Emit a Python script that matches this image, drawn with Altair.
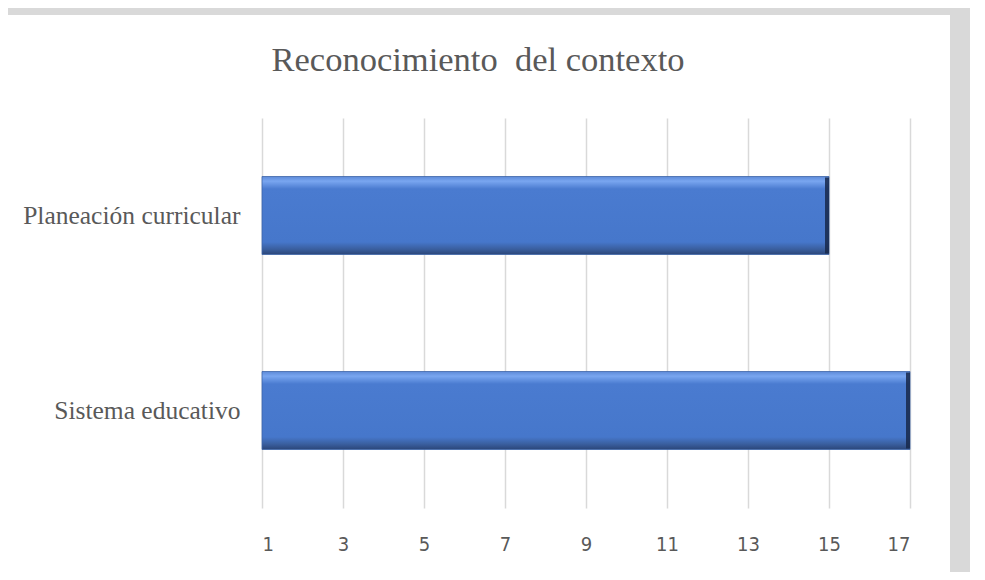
import altair as alt
import pandas as pd

categories = ["Planeación curricular", "Sistema educativo"]
values = [15, 17]
tick_values = [1, 3, 5, 7, 9, 11, 13, 15, 17]
title_text = "Reconocimiento\u00a0 del contexto"

df = pd.DataFrame({"cat": categories, "val": values, "base": [1, 1]})

x_scale = alt.Scale(domain=[1, 17], nice=False, zero=False)
y_scale = alt.Scale(domain=categories, paddingInner=0.6, paddingOuter=0.3)

gradient = alt.Gradient(
    gradient="linear",
    x1=0, x2=0, y1=0, y2=1,
    stops=[
        alt.GradientStop(offset=0.0, color="#5d8ad8"),
        alt.GradientStop(offset=0.06, color="#79a6f0"),
        alt.GradientStop(offset=0.16, color="#4a7bd0"),
        alt.GradientStop(offset=0.84, color="#4677cb"),
        alt.GradientStop(offset=0.93, color="#3a5f9f"),
        alt.GradientStop(offset=1.0, color="#2b4679"),
    ],
)

bars = alt.Chart(df).mark_bar(fill=gradient, stroke="#3c64a8", strokeWidth=0.8).encode(
    x=alt.X("base:Q", scale=x_scale,
            axis=alt.Axis(values=tick_values, grid=True, gridColor="#d9d9d9", gridWidth=1.5,
                          domain=False, ticks=False,
                          labelFont="DejaVu Sans Condensed, Lato, sans-serif",
                          labelFontSize=20, labelColor="#595959", labelPadding=26, title=None)),
    x2="val:Q",
    y=alt.Y("cat:N", scale=y_scale, sort=categories,
            axis=alt.Axis(domain=False, ticks=False, labelFont="Liberation Serif",
                          labelFontSize=25.5, labelColor="#595959", labelPadding=22,
                          labelLimit=400, title=None)),
)

edge = alt.Chart(df).mark_tick(color="#17284a", thickness=4, xOffset=-2, opacity=0.85).encode(
    x=alt.X("val:Q", scale=x_scale),
    y=alt.Y("cat:N", scale=y_scale, sort=categories),
    size=alt.value(76),
)

one = pd.DataFrame({"a": [0]})
title = alt.Chart(one).mark_text(
    text=title_text, font="Liberation Serif", fontSize=34.5, color="#595959",
    baseline="middle", align="center"
).encode(x=alt.value(216), y=alt.value(-57))

gray_right = alt.Chart(one).mark_rect(color="#d9d9d9").encode(
    x=alt.value(688), x2=alt.value(760), y=alt.value(-120), y2=alt.value(470))
gray_top = alt.Chart(one).mark_rect(color="#d9d9d9").encode(
    x=alt.value(-260), x2=alt.value(760), y=alt.value(-120), y2=alt.value(-103))

chart = alt.layer(gray_right, gray_top, bars, edge, title).properties(
    width=648, height=390,
    autosize=alt.AutoSizeParams(type="none"),
    padding={"left": 254, "top": 110, "right": 60, "bottom": 64},
    background="white",
).configure_view(stroke=None)

chart.save("out.html", embed_options={"renderer": "svg", "actions": False})
